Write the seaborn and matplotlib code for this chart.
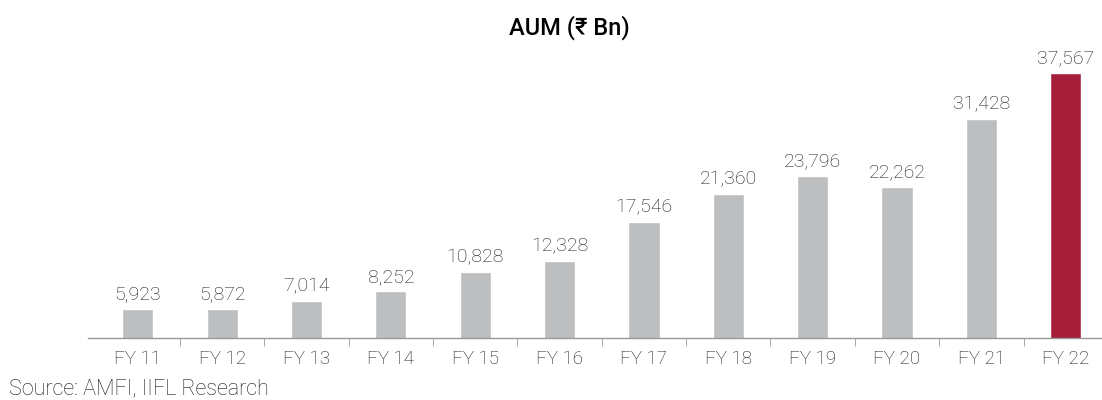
import matplotlib.pyplot as plt
import seaborn as sns
import pandas as pd

years = ["FY 11", "FY 12", "FY 13", "FY 14", "FY 15", "FY 16",
         "FY 17", "FY 18", "FY 19", "FY 20", "FY 21", "FY 22"]
aum = [5923, 5872, 7014, 8252, 10828, 12328,
       17546, 21360, 23796, 22262, 31428, 37567]

grey = "#BDBEC0"
red = "#A51E3A"
colors = [grey] * (len(years) - 1) + [red]

sns.set_style("white")
plt.rcParams['font.family'] = ['Roboto', 'DejaVu Sans']

df = pd.DataFrame({"Year": years, "AUM": aum})

fig = plt.figure(figsize=(11.02, 4), dpi=100)
ax = fig.add_axes([88 / 1102, 62 / 400, 1014 / 1102, 278 / 400])

sns.barplot(data=df, x="Year", y="AUM", hue="Year", palette=colors,
            width=0.37, saturation=1, legend=False, ax=ax)

# value labels above the bars
for i, v in enumerate(aum):
    ax.annotate(f"{v:,}", (i, v), xytext=(0, 4), textcoords="offset points",
                ha="center", va="bottom", fontsize=14, color="#1a1a1a",
                fontweight="light")

# axis does not start at zero in the source chart
ax.set_xlim(-0.59, 11.43)
ax.set_ylim(2000, 39300)
ax.set_yticks([])
ax.set_xlabel("")
ax.set_ylabel("")
for s in ["top", "right", "left"]:
    ax.spines[s].set_visible(False)
ax.spines["bottom"].set_color("#999999")
ax.spines["bottom"].set_linewidth(1)

ax.set_xticks(range(len(years)))
ax.set_xticklabels(years, fontsize=13.5, color="#1a1a1a", fontweight="light")
ax.tick_params(axis="x", which="major", length=0, pad=9)
ax.set_xticks([i + 0.5 for i in range(len(years) - 1)], minor=True)
ax.tick_params(axis="x", which="minor", length=6, color="#999999",
               direction="out", bottom=True)

fig.text(569 / 1102, 1 - 28 / 400, "AUM (₹ Bn)", ha="center", va="center",
         fontsize=17, fontweight="medium", color="black")
fig.text(9 / 1102, 1 - 389 / 400, "Source: AMFI, IIFL Research",
         ha="left", va="center", fontsize=15.5, color="#1a1a1a",
         fontweight="light")

fig.savefig("out.png", dpi=100)
